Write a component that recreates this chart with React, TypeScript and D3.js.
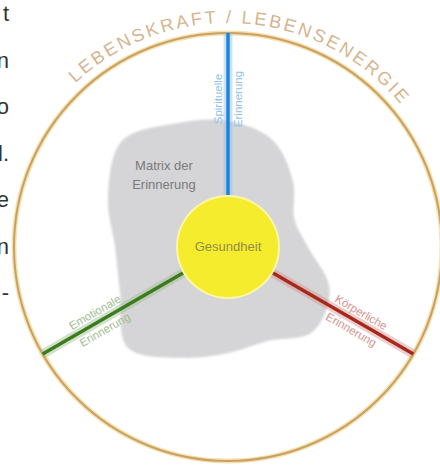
import * as d3 from "d3";

// one fragment per line of the cut-off text column on the left
const sideFragments = ["t", "n", "o", "l.", "e", "n", "-"];

// the three branches, clockwise from the top
const branchWords = [
  ["Spirituelle", "Erinnerung"],
  ["Körperliche", "Erinnerung"],
  ["Emotionale", "Erinnerung"],
];
const branchColors = ["#1f84d9", "#a8281e", "#3c7b1f"];

// outline of the grey "matrix" blob: radius every 22.5°, clockwise from 12 o'clock
const blobRadii = [126, 116, 92, 72, 80, 110, 120, 102, 106, 120, 142, 117, 113, 130, 150, 134];

const arcTitle = "LEBENSKRAFT / LEBENSENERGIE";
const centerLabel = "Gesundheit";
const matrixLabel = ["Matrix der", "Erinnerung"];

const width = 440;
const height = 465;
const cx = 228;
const cy = 247;
const outerR = 214;
const innerR = 50;

const App = () => {
  const rad = (deg: number) => (deg * Math.PI) / 180;

  const angle = d3.scaleLinear().domain([0, branchWords.length]).range([-90, 270]);
  const color = d3.scaleOrdinal<number, string>().domain(d3.range(branchColors.length)).range(branchColors);
  const along = d3.scaleLinear().domain([0, 1]).range([innerR, outerR]);

  const sideY = d3.scaleLinear().domain([0, sideFragments.length - 1]).range([21, 300]);

  const blob = d3
    .lineRadial<number>()
    .angle((_, i) => (i / blobRadii.length) * 2 * Math.PI)
    .radius((d) => d)
    .curve(d3.curveCatmullRomClosed.alpha(0.5));

  const titlePath = d3.path();
  titlePath.arc(cx, cy, outerR + 10, rad(-146), rad(-26), false);

  return (
    <svg
      width={width}
      height={height}
      style={{ position: "absolute", left: 0, top: 0, background: "#ffffff" }}
      fontFamily="'Liberation Sans', Arial, sans-serif"
    >
      <defs>
        <path id="titleArc" d={titlePath.toString()} fill="none" />
        <filter id="soft" x="-10%" y="-10%" width="120%" height="120%">
          <feGaussianBlur stdDeviation="1.2" />
        </filter>
      </defs>

      {/* cut-off body text */}
      <g fontSize={22} fill="#333" textAnchor="end">
        {sideFragments.map((t, i) => (
          <text key={i} x={9} y={sideY(i)}>
            {t}
          </text>
        ))}
      </g>

      {/* grey matrix blob */}
      <path
        d={blob(blobRadii) || ""}
        transform={`translate(${cx},${cy})`}
        fill="#d5d5d7"
        filter="url(#soft)"
      />
      <g fontSize={13} fill="#7a7a7a" textAnchor="middle">
        {matrixLabel.map((t, i) => (
          <text key={i} x={164} y={170 + i * 19}>
            {t}
          </text>
        ))}
      </g>

      {/* outer circle */}
      <circle cx={cx} cy={cy} r={outerR} fill="none" stroke="#f5e2b0" strokeWidth={5} />
      <circle cx={cx} cy={cy} r={outerR} fill="none" stroke="#c9a064" strokeWidth={2} />

      <text fontSize={18} fill="#d6b48e" letterSpacing={2.6} textAnchor="middle">
        <textPath href="#titleArc" startOffset="50%">
          {arcTitle}
        </textPath>
      </text>

      {/* branches */}
      {branchWords.map((words, i) => {
        const a = angle(i);
        const c = color(i);
        const light = d3.interpolateRgb(c, "#ffffff")(0.5);
        const p0 = [cx + along(0) * Math.cos(rad(a)), cy + along(0) * Math.sin(rad(a))];
        const p1 = [cx + along(1) * Math.cos(rad(a)), cy + along(1) * Math.sin(rad(a))];
        const labelR = 148;
        const lx = cx + labelR * Math.cos(rad(a));
        const ly = cy + labelR * Math.sin(rad(a));
        const rot = a > 90 ? a - 180 : a;
        return (
          <g key={i}>
            <line x1={p0[0]} y1={p0[1]} x2={p1[0]} y2={p1[1]} stroke={light} strokeOpacity={0.45} strokeWidth={9} />
            <line x1={p0[0]} y1={p0[1]} x2={p1[0]} y2={p1[1]} stroke={c} strokeWidth={3.5} />
            <g transform={`translate(${lx},${ly}) rotate(${rot})`} fontSize={11.5} fill={light} textAnchor="middle">
              <text y={-6}>{words[0]}</text>
              <text y={14}>{words[1]}</text>
            </g>
          </g>
        );
      })}

      {/* centre */}
      <circle cx={cx} cy={cy} r={innerR + 2} fill="#fbf6a8" />
      <circle cx={cx} cy={cy} r={innerR} fill="#f6ec2e" />
      <text x={cx} y={cy + 4} fontSize={13} fill="#928c46" textAnchor="middle">
        {centerLabel}
      </text>
    </svg>
  );
};

export default App;
